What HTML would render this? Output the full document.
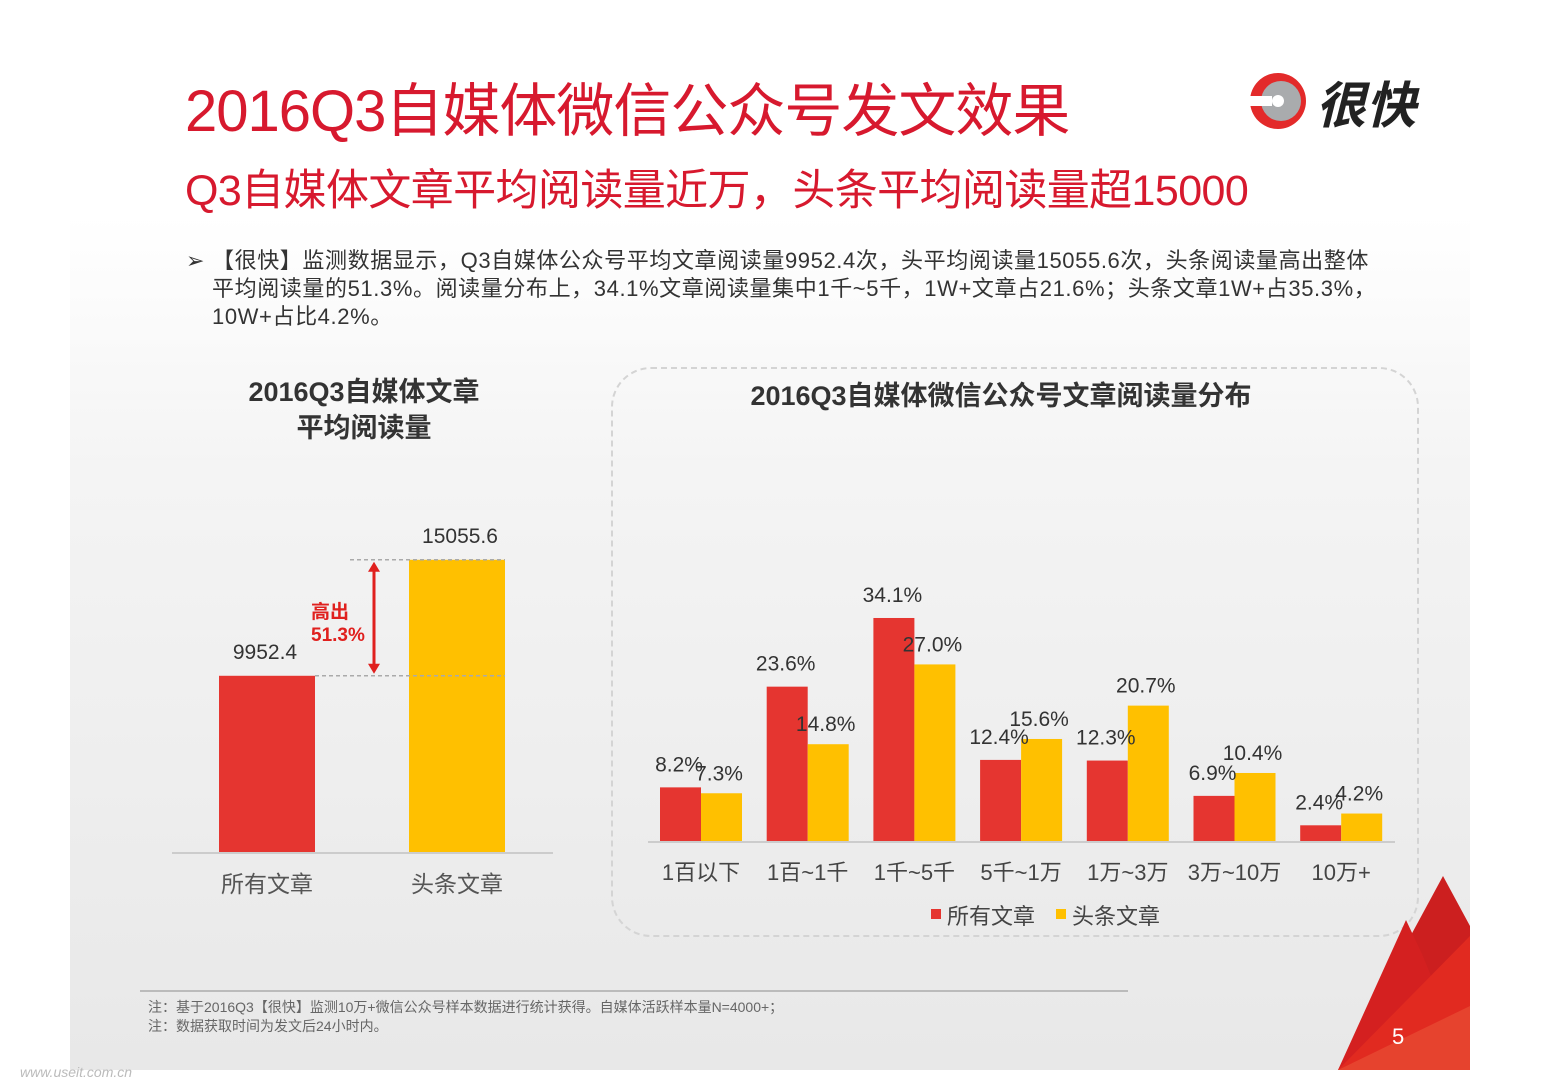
<!DOCTYPE html>
<html><head><meta charset="utf-8"><style>
body{margin:0;width:1543px;height:1091px;background:#fff;position:relative;overflow:hidden;font-family:"Liberation Sans","Noto Sans CJK SC",sans-serif}
.abs{position:absolute}
</style></head><body>
<div class="abs" style="left:70px;top:215px;width:1400px;height:855px;background:linear-gradient(#fff 0%,#f4f4f4 30%,#e8e8e8 100%)"></div>
<div class="abs" style="left:185px;top:64px;font-size:58px;color:#d7192e;white-space:nowrap;letter-spacing:-1px">2016Q3自媒体微信公众号发文效果</div>
<div class="abs" style="left:185px;top:156px;font-size:43px;color:#d7192e;white-space:nowrap;letter-spacing:-0.6px">Q3自媒体文章平均阅读量近万，头条平均阅读量超15000</div>
<svg class="abs" style="left:1248px;top:70px" width="180" height="62" viewBox="0 0 180 62">
<circle cx="30" cy="31" r="28" fill="#e32a2a"/><circle cx="33" cy="31" r="20" fill="#a9abad"/><circle cx="30" cy="31" r="6" fill="#fff"/>
<rect x="0" y="26" width="24" height="10" fill="#fff"/>
<text x="68" y="53" font-size="50" font-weight="bold" font-style="italic" fill="#222" font-family="Noto Sans CJK SC,sans-serif">很快</text></svg>
<div class="abs" style="left:186px;top:247px;width:1200px;font-size:22px;line-height:28px;color:#333;letter-spacing:0.6px">
<span style="position:absolute;left:0">➢</span><div style="padding-left:26px">【很快】监测数据显示，Q3自媒体公众号平均文章阅读量9952.4次，头平均阅读量15055.6次，头条阅读量高出整体平均阅读量的51.3%。阅读量分布上，34.1%文章阅读量集中1千~5千，1W+文章占21.6%；头条文章1W+占35.3%，10W+占比4.2%。</div></div>
<div class="abs" style="left:214px;top:374px;width:300px;text-align:center;font-size:27px;font-weight:bold;color:#333;line-height:36px">2016Q3自媒体文章<br>平均阅读量</div>
<div class="abs" style="left:611px;top:367px;width:804px;height:566px;border:2px dashed #d4d4d4;border-radius:40px"></div>
<div class="abs" style="left:611px;top:374px;width:780px;text-align:center;font-size:27px;font-weight:bold;color:#333">2016Q3自媒体微信公众号文章阅读量分布</div>
<svg class="abs" id="chart" style="left:0;top:0" width="1543" height="1091"></svg>
<div class="abs" style="left:140px;top:990px;width:988px;height:2px;background:#bbb"></div>
<div class="abs" style="left:148px;top:998px;font-size:14px;color:#666;line-height:19px">注：基于2016Q3【很快】监测10万+微信公众号样本数据进行统计获得。自媒体活跃样本量N=4000+；<br>注：数据获取时间为发文后24小时内。</div>
<svg class="abs" style="left:1338px;top:876px" width="132" height="195">
<polygon points="0,194 105,0 132,50 132,194" fill="#cc1f1f"/><polygon points="0,194 68,44 84,78 132,194" fill="#d42020"/>
<polygon points="0,194 132,60 132,194" fill="#e12a20"/><polygon points="0,194 132,130 132,194" fill="#e6432e"/></svg>
<div class="abs" style="left:1392px;top:1024px;font-size:22px;color:#fff">5</div>
<div class="abs" style="left:20px;top:1064px;font-size:14px;color:#bbb;font-style:italic">www.useit.com.cn</div>
<script>
const ns="http://www.w3.org/2000/svg";const svg=document.getElementById('chart');
function el(t,a,txt){const e=document.createElementNS(ns,t);for(const k in a)e.setAttribute(k,a[k]);if(txt!=null)e.textContent=txt;svg.appendChild(e);return e;}
// left chart data
const leftCats=["所有文章","头条文章"];
const leftVals=[9952.4,15055.6];
const leftColors=["#e53530","#ffc000"];
// right chart data
const rightCats=["1百以下","1百~1千","1千~5千","5千~1万","1万~3万","3万~10万","10万+"];
const allVals=[8.2,23.6,34.1,12.4,12.3,6.9,2.4];
const headVals=[7.3,14.8,27.0,15.6,20.7,10.4,4.2];
const seriesNames=["所有文章","头条文章"];

// left
const lBase=852;const ly=v=>lBase-(-50+0.02273*v);const lx=i=>267+i*190;
el('line',{x1:172,y1:853,x2:553,y2:853,stroke:'#ccc','stroke-width':2});
leftVals.forEach((v,i)=>{
 const r=el('rect',{x:lx(i)-48,y:ly(v),width:96,height:lBase-ly(v),fill:leftColors[i]});
 
 const t=el('text',{x:lx(i)-(i?-3:2),y:ly(v)-17,'font-size':21,fill:'#333','text-anchor':'middle'},v.toFixed(1));
 
 const c=el('text',{x:lx(i),y:892,'font-size':23,fill:'#555','text-anchor':'middle'},leftCats[i]);
 
});
el('line',{x1:315,y1:ly(leftVals[0]),x2:505,y2:ly(leftVals[0]),stroke:'#aaa','stroke-dasharray':'4,3','stroke-width':1.5});
el('line',{x1:350,y1:ly(leftVals[1]),x2:505,y2:ly(leftVals[1]),stroke:'#aaa','stroke-dasharray':'4,3','stroke-width':1.5});
el('line',{x1:374,y1:ly(leftVals[1])+6,x2:374,y2:ly(leftVals[0])-6,stroke:'#e0201e','stroke-width':3});
el('polygon',{points:`368,${ly(leftVals[1])+12} 380,${ly(leftVals[1])+12} 374,${ly(leftVals[1])+2}`,fill:'#e0201e'});
el('polygon',{points:`368,${ly(leftVals[0])-12} 380,${ly(leftVals[0])-12} 374,${ly(leftVals[0])-2}`,fill:'#e0201e'});
const pct=((leftVals[1]/leftVals[0]-1)*100).toFixed(1);
el('text',{x:311,y:618,'font-size':19,'font-weight':'bold',fill:'#e0201e'},'高出');
el('text',{x:311,y:641,'font-size':19,'font-weight':'bold',fill:'#e0201e'},pct+'%');

// right
const rBase=841;const ry=v=>rBase-v*6.54;const gx=i=>701+i*106.7;const bw=41;
el('line',{x1:648,y1:842,x2:1395,y2:842,stroke:'#ccc','stroke-width':2});
rightCats.forEach((c,i)=>{
 const a=el('rect',{x:gx(i)-bw,y:ry(allVals[i]),width:bw,height:rBase-ry(allVals[i]),fill:'#e53530'});
 
 const h=el('rect',{x:gx(i),y:ry(headVals[i]),width:bw,height:rBase-ry(headVals[i]),fill:'#ffc000'});
 
 const t1=el('text',{x:gx(i)-22,y:ry(allVals[i])-16,'font-size':21,fill:'#333','text-anchor':'middle'},allVals[i].toFixed(1)+'%');
 
 const t2=el('text',{x:gx(i)+18,y:ry(headVals[i])-13,'font-size':21,fill:'#333','text-anchor':'middle'},headVals[i].toFixed(1)+'%');
 
 const cl=el('text',{x:gx(i),y:880,'font-size':22,fill:'#444','text-anchor':'middle'},c);
 
});
[["#e53530",931],["#ffc000",1056]].forEach((d,i)=>{
 const r=el('rect',{x:d[1],y:909,width:10,height:10,fill:d[0]});
 const t=el('text',{x:d[1]+16,y:924,'font-size':22,fill:'#444'},seriesNames[i]);
});
</script>
</body></html>
